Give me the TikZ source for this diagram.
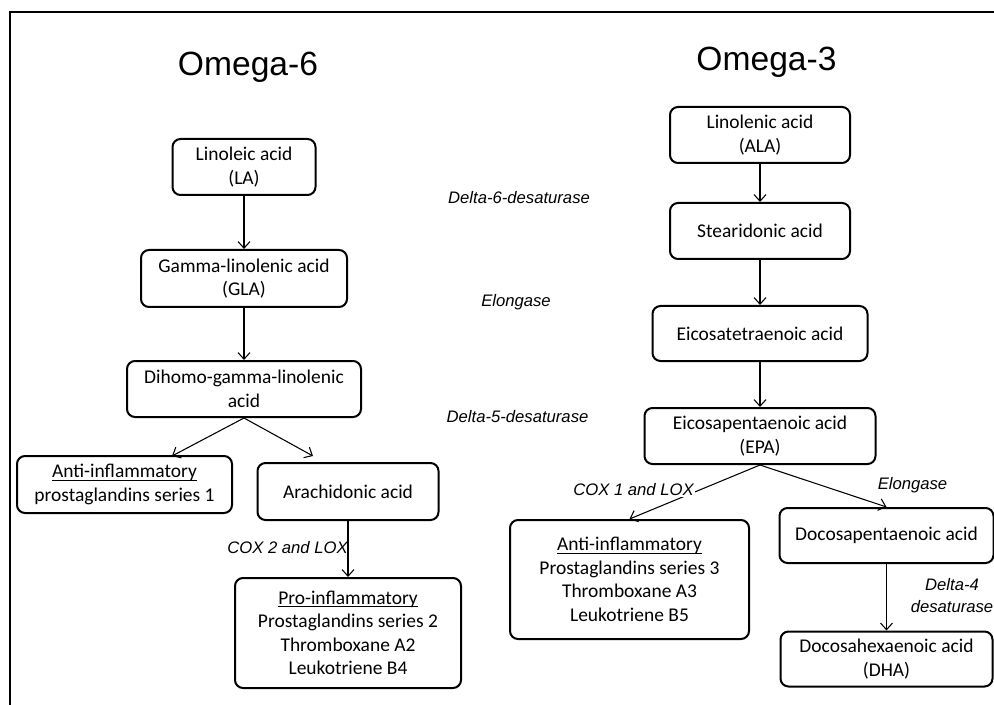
\documentclass[tikz,border=0pt]{standalone}
\usepackage{fontspec}
\setmainfont{Carlito}
\newfontfamily\arialfont{Liberation Sans}
\newcommand\myul[1]{\setbox0\hbox{#1}\rlap{\rule[-2.2pt]{\wd0}{0.7pt}}\box0}
\usetikzlibrary{arrows.meta,calc}
\begin{document}
\begin{tikzpicture}[x=0.75pt,y=-0.75pt,
  box/.style={draw, line width=1.5pt, rounded corners=6pt, align=center, inner sep=2pt,
    font=\fontsize{14.6}{17.6}\selectfont},
  sz/.style 2 args={minimum width=#1*0.75pt, minimum height=#2*0.75pt},
  arr/.style={-{Straight Barb[length=5pt,width=9pt]}, line width=0.8pt},
  enz/.style={font=\arialfont\itshape\fontsize{12.5}{16.5}\selectfont, align=center, inner sep=1pt},
  title/.style={font=\arialfont\fontsize{25.2}{29}\selectfont}]
\useasboundingbox (0,0) rectangle (994,705);
\draw[line width=1.5pt] (10,705) -- (10,12) -- (994,12);

% titles
\node[title] (o6) at (248,67) {Omega-6};
\node[title] (o3) at (766.5,62) {Omega-3};

% omega-6 column
\node[box, sz={143}{56}] (la) at (244,167) {Linoleic acid\\(LA)};
\node[box, sz={206}{57}] (gla) at (244,278.5) {Gamma-linolenic acid\\(GLA)};
\node[box, sz={234}{56}] (dgla) at (244,389) {Dihomo-gamma-linolenic\\acid};
\node[box, sz={215}{57}] (antil) at (124.5,484.5) {\myul{Anti-inflammatory}\\prostaglandins series 1};
\node[box, sz={181}{57}] (aa) at (348,491.5) {Arachidonic acid};
\node[box, sz={226}{110}] (pro) at (348,633) {\myul{Pro-inflammatory}\\Prostaglandins series 2\\Thromboxane A2\\Leukotriene B4};

% omega-3 column
\node[box, sz={180}{56}] (ala) at (760,135) {Linolenic acid\\(ALA)};
\node[box, sz={180}{56}] (sda) at (760,231) {Stearidonic acid};
\node[box, sz={215}{55}] (eta) at (760,333.5) {Eicosatetraenoic acid};
\node[box, sz={231}{56}] (epa) at (760,436) {Eicosapentaenoic acid\\(EPA)};
\node[box, sz={239}{119}] (antir) at (629.5,579.5) {\myul{Anti-inflammatory}\\Prostaglandins series 3\\Thromboxane A3\\Leukotriene B5};
\node[box, sz={214}{55}] (dpa) at (886.5,535.5) {Docosapentaenoic acid};
\node[box, sz={212}{55}] (dha) at (886.5,659) {Docosahexaenoic acid\\(DHA)};

% enzyme labels
\node[enz] (d6) at (519,198) {Delta-6-desaturase};
\node[enz] (el) at (516,302) {Elongase};
\node[enz] (d5) at (517.5,417) {Delta-5-desaturase};
\node[enz] (cox2) at (287.5,548) {COX 2 and LOX};
\node[enz] (el2) at (912.5,485) {Elongase};
\node[enz] (d4) at (952,596) {Delta-4\\desaturase};

% arrows
\coordinate (tl) at (172,456);
\coordinate (tr) at (313,456);
\draw[arr] (la.south) -- (gla.north);
\draw[arr] (gla.south) -- (dgla.north);
\draw[arr] (dgla.south) -- (tl);
\draw[arr] (dgla.south) -- (tr);
\draw[arr] (aa.south) -- (pro.north);
\draw[arr] (ala.south) -- (sda.north);
\draw[arr] (sda.south) -- (eta.north);
\draw[arr] (eta.south) -- (epa.north);
\draw[arr] (epa.south) -- (antir.north);
\draw[arr] (epa.south) -- (dpa.north);
\draw[arr] (dpa.south) -- (dha.north);

\node[enz, fill=white] (cox1) at (633.5,490) {COX 1 and LOX};
\end{tikzpicture}
\end{document}
